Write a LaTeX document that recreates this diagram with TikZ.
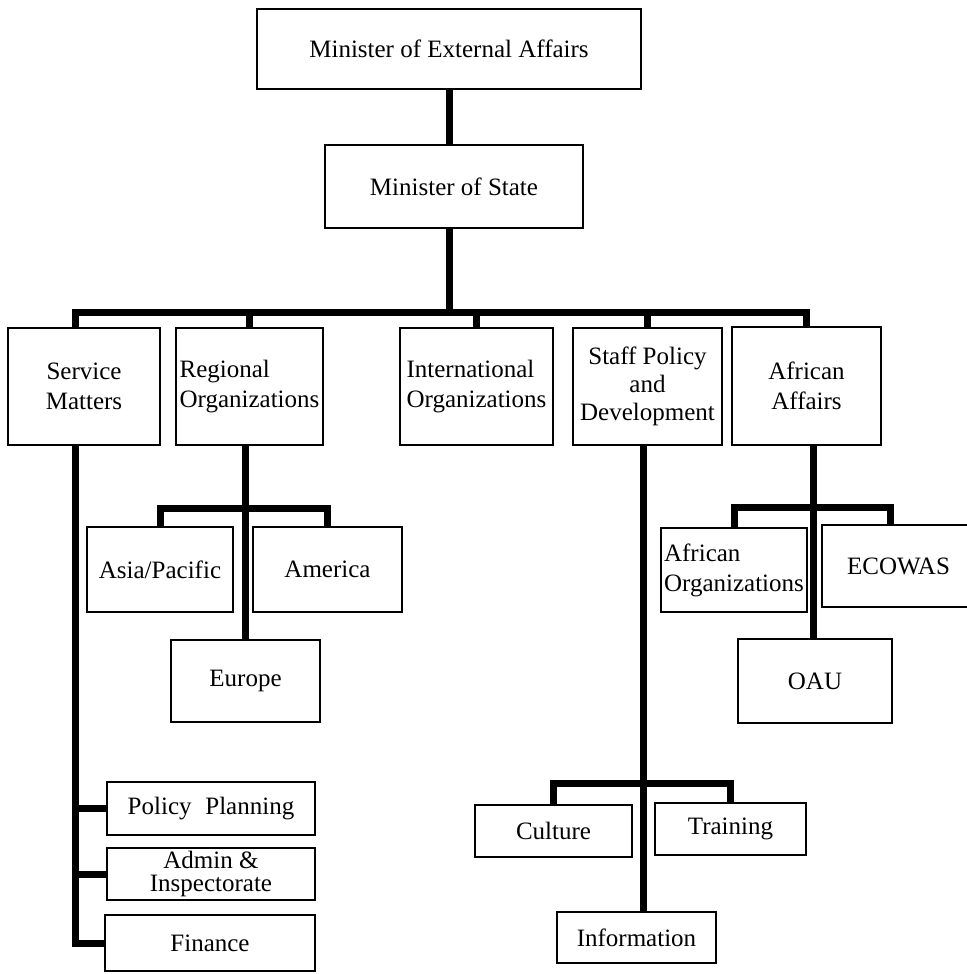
\documentclass[tikz,border=0pt]{standalone}
\usepackage{fontspec}
\setmainfont{Liberation Serif}
\begin{document}
\begin{tikzpicture}[x=0.5pt,y=-0.5pt,
  box/.style 2 args={draw, line width=1.2pt, rectangle, inner sep=0pt, align=center,
    minimum width=#1*0.5pt, minimum height=#2*0.5pt,
    font=\fontsize{12.5}{15}\selectfont},
  lbox/.style 2 args={box={#1}{#2}, align=left},
  conn/.style={line width=3.5pt},
  ]
\useasboundingbox (0,0) rectangle (967,974);

% ministers
\node[box={384}{80}] (mea) at (449,49) {Minister of External Affairs};
\node[box={258}{83}] (mos) at (454,186.5) {Minister of State};

% departments
\node[box={152}{117}] (svc) at (84,386.5) {Service\\Matters};
\node[lbox={147}{117}] (reg) at (249.5,386.5) {Regional\\Organizations};
\node[lbox={153}{117}] (intl) at (476.5,386.5) {International\\Organizations};
\node[box={149}{117}, font=\fontsize{12.5}{14}\selectfont] (staff) at (647.5,386.5) {Staff Policy\\and\\Development};
\node[box={149}{118}] (afr) at (806.5,386) {African\\Affairs};

% regional organizations
\node[box={146}{85}] (asia) at (160,569.5) {Asia/Pacific};
\node[box={149}{85}] (amer) at (327.5,569.5) {America};
\node[box={149}{82}] (eur) at (245.5,681) {Europe};

% african affairs
\node[lbox={146}{84}] (afo) at (734,570) {African\\Organizations};
\node[box={153}{82}] (eco) at (898.5,566) {ECOWAS};
\node[box={154}{84}] (oau) at (815,681) {OAU};

% service matters
\node[box={208}{53}] (pol) at (211,808.5) {Policy\hspace{0.55em}Planning};
\node[box={208}{52}, font=\fontsize{12.5}{11.5}\selectfont] (adm) at (211,874) {Admin \&\\Inspectorate};
\node[box={210}{56}] (fin) at (210,943) {Finance};

% staff policy
\node[box={157}{52}] (cul) at (553.5,831) {Culture};
\node[box={151}{52}] (trn) at (730.5,829) {Training};
\node[box={159}{51}] (inf) at (636.5,937.5) {Information};

% top chain and main bus
\coordinate (busL) at (75,312);
\draw[conn] (mea.south) -- (mea.south |- mos.north);
\draw[conn] (mea.south |- mos.south) -- (mea.south |- busL);
\draw[conn] (busL |- svc.north) -- (busL) -- (afr.north |- busL) -- (afr.north);
\draw[conn] (reg.north |- busL) -- (reg.north);
\draw[conn] (intl.north |- busL) -- (intl.north);
\draw[conn] (staff.north |- busL) -- (staff.north);

% service matters spine
\draw[conn] (busL |- svc.south) -- (busL |- fin.west) -- (fin.west);
\draw[conn] (busL |- pol.west) -- (pol.west);
\draw[conn] (busL |- adm.west) -- (adm.west);

% regional organizations
\coordinate (rj) at (245.5,508);
\draw[conn] (eur.north |- reg.south) -- (eur.north);
\draw[conn] (asia.north) -- (asia.north |- rj) -- (amer.north |- rj) -- (amer.north);

% staff policy
\coordinate (sj) at (643,783);
\draw[conn] (sj |- staff.south) -- (sj |- inf.north);
\draw[conn] (cul.north) -- (cul.north |- sj) -- (trn.north |- sj) -- (trn.north);

% african affairs
\coordinate (aj) at (813,507);
\coordinate (ej) at (890,507);
\draw[conn] (aj |- afr.south) -- (aj |- oau.north);
\draw[conn] (afo.north) -- (afo.north |- aj) -- (ej) -- (ej |- eco.north);
\end{tikzpicture}
\end{document}
